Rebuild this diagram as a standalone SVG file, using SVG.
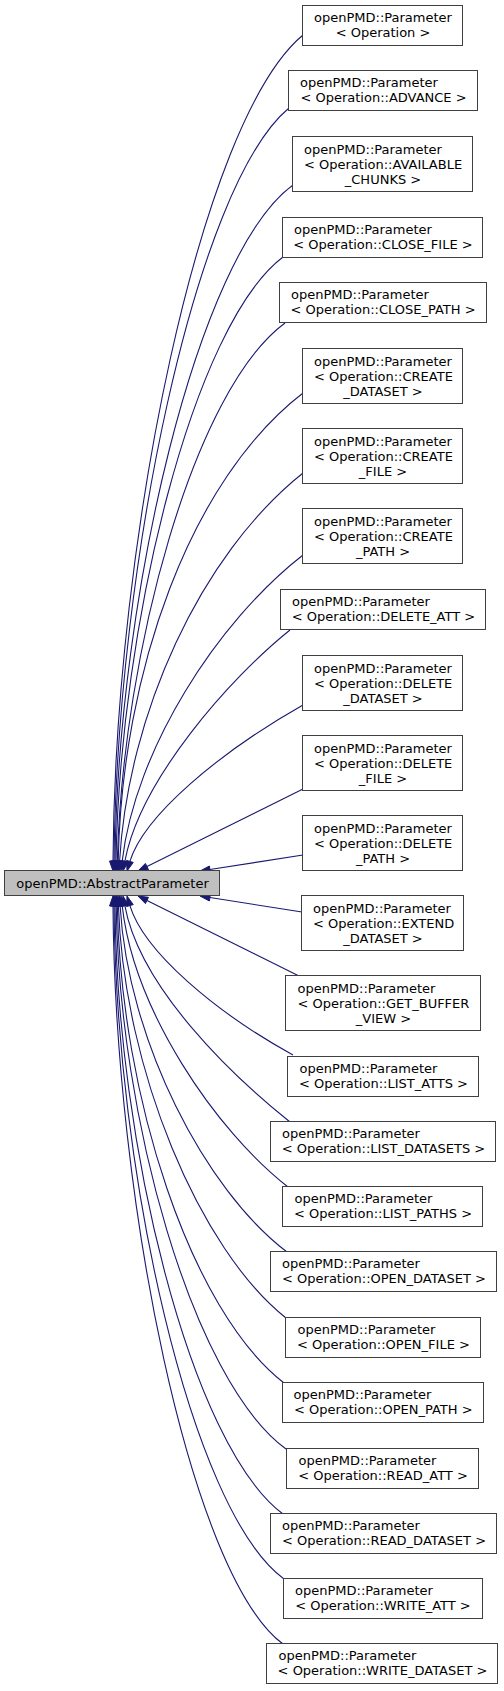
<svg xmlns="http://www.w3.org/2000/svg" width="504" height="1691" viewBox="0 0 504 1691">
<style>
.n rect{fill:#ffffff;stroke:#404040;stroke-width:1}
.m rect{fill:#bfbfbf;stroke:#404040;stroke-width:1}
text{font-family:"DejaVu Sans","Liberation Sans",sans-serif;font-size:13px;fill:#000000}
.c{text-anchor:middle}
#edges path{fill:none;stroke:#191970;stroke-width:1.1}
#edges polygon{fill:#191970;stroke:#191970;stroke-width:1}
</style>
<rect x="0" y="0" width="504" height="1691" fill="#ffffff"/>
<g id="edges">
<path d="M113,861 C115,540 200,120 303,35"/><polygon points="109.5,861 113,871 116.5,861"/>
<path d="M114,861 C117,567 195,186 289,108"/><polygon points="110.5,861 114,871 117.5,861"/>
<path d="M115,861 C118,597 197,255 293,185"/><polygon points="111.5,861 115,871 118.5,861"/>
<path d="M116,861 C120,625 193,325 283,257"/><polygon points="112.5,861 116,871 119.5,861"/>
<path d="M117.3,861 C123,651 194,390 285,323"/><polygon points="113.8,860.9 117,871 120.8,861.1"/>
<path d="M118.2,861 C122,672 190,480 303,393"/><polygon points="114.7,861 118,871 121.7,861"/>
<path d="M119.6,861 C128,715 200,555 303,473"/><polygon points="116.1,860.8 119,871 123.1,861.2"/>
<path d="M122.2,861.1 C135,750 217,622 303,555"/><polygon points="118.7,860.7 121,871 125.7,861.5"/>
<path d="M124.9,861.2 C140,780 230,678 290,630"/><polygon points="121.5,860.5 123,871 128.3,861.9"/>
<path d="M129.9,861.4 C143.9,815.5 220,752 303,705"/><polygon points="126.55,860.4 127,871 133.25,862.4"/>
<path d="M147,866.5 L303,789"/><polygon points="145.4,863.4 138,871 148.5,869.7"/>
<path d="M209.9,869.5 L303,855"/><polygon points="209.4,866 200,871 210.4,873"/>
<path d="M209.9,897.5 L302,912"/><polygon points="210.4,894.1 200,896 209.4,901"/>
<path d="M147,900.5 L299,976"/><polygon points="148.5,897.3 138,896 145.4,903.6"/>
<path d="M129.9,905.6 C143.9,951.5 215,1012 293,1055"/><polygon points="126.55,906.6 127,896 133.25,904.6"/>
<path d="M124.9,905.8 C140,987 230,1074 290,1122"/><polygon points="121.5,906.5 123,896 128.3,905.1"/>
<path d="M122.2,905.9 C134,1010 215,1130 288,1187"/><polygon points="118.7,906.3 121,896 125.7,905.5"/>
<path d="M120.1,906 C128,1040 205,1190 287,1252"/><polygon points="116.6,906.2 119.5,896 123.6,905.8"/>
<path d="M118.4,906 C124,1070 200,1250 286,1318"/><polygon points="114.9,906 118,896 121.9,906"/>
<path d="M117.3,906 C121,1095 190,1310 284,1383"/><polygon points="113.8,906 117,896 120.8,906"/>
<path d="M116.2,906 C119,1116 192,1380 286,1449"/><polygon points="112.7,906 116,896 119.7,906"/>
<path d="M115,906 C117,1142 190,1445 283,1514"/><polygon points="111.5,906 115,896 118.5,906"/>
<path d="M114,906 C116,1170 190,1510 284,1579"/><polygon points="110.5,906 114,896 117.5,906"/>
<path d="M113,906 C115,1200 190,1575 283,1644"/><polygon points="109.5,906 113,896 116.5,906"/>
</g>
<g id="main" class="m"><rect x="4.5" y="870.5" width="215" height="25"/><text class="c" x="112.5" y="887.8">openPMD::AbstractParameter</text></g>
<g id="n1" class="n"><rect x="302.5" y="5.5" width="160" height="40"/><text x="314" y="22.3">openPMD::Parameter</text><text class="c" x="383" y="37.3">&lt; Operation &gt;</text></g>
<g id="n2" class="n"><rect x="288.5" y="70.5" width="189" height="40"/><text x="300" y="87.3">openPMD::Parameter</text><text class="c" x="383.5" y="102.3">&lt; Operation::ADVANCE &gt;</text></g>
<g id="n3" class="n"><rect x="292.5" y="136.5" width="180" height="55"/><text x="304" y="153.8">openPMD::Parameter</text><text x="304" y="168.8">&lt; Operation::AVAILABLE</text><text class="c" x="383" y="183.8">_CHUNKS &gt;</text></g>
<g id="n4" class="n"><rect x="282.5" y="217.5" width="200" height="40"/><text x="294" y="234.3">openPMD::Parameter</text><text class="c" x="383" y="249.3">&lt; Operation::CLOSE_FILE &gt;</text></g>
<g id="n5" class="n"><rect x="279.5" y="282.5" width="207" height="40"/><text x="291" y="299.3">openPMD::Parameter</text><text class="c" x="383" y="314.3">&lt; Operation::CLOSE_PATH &gt;</text></g>
<g id="n6" class="n"><rect x="302.5" y="348.5" width="160" height="55"/><text x="314" y="365.8">openPMD::Parameter</text><text x="314" y="380.8">&lt; Operation::CREATE</text><text class="c" x="383" y="395.8">_DATASET &gt;</text></g>
<g id="n7" class="n"><rect x="302.5" y="428.5" width="160" height="55"/><text x="314" y="445.8">openPMD::Parameter</text><text x="314" y="460.8">&lt; Operation::CREATE</text><text class="c" x="383" y="475.8">_FILE &gt;</text></g>
<g id="n8" class="n"><rect x="302.5" y="508.5" width="160" height="55"/><text x="314" y="525.8">openPMD::Parameter</text><text x="314" y="540.8">&lt; Operation::CREATE</text><text class="c" x="383" y="555.8">_PATH &gt;</text></g>
<g id="n9" class="n"><rect x="280.5" y="589.5" width="205" height="40"/><text x="292" y="606.3">openPMD::Parameter</text><text class="c" x="383.5" y="621.3">&lt; Operation::DELETE_ATT &gt;</text></g>
<g id="n10" class="n"><rect x="302.5" y="655.5" width="160" height="55"/><text x="314" y="672.8">openPMD::Parameter</text><text x="314" y="687.8">&lt; Operation::DELETE</text><text class="c" x="383" y="702.8">_DATASET &gt;</text></g>
<g id="n11" class="n"><rect x="302.5" y="735.5" width="160" height="55"/><text x="314" y="752.8">openPMD::Parameter</text><text x="314" y="767.8">&lt; Operation::DELETE</text><text class="c" x="383" y="782.8">_FILE &gt;</text></g>
<g id="n12" class="n"><rect x="302.5" y="815.5" width="160" height="55"/><text x="314" y="832.8">openPMD::Parameter</text><text x="314" y="847.8">&lt; Operation::DELETE</text><text class="c" x="383" y="862.8">_PATH &gt;</text></g>
<g id="n13" class="n"><rect x="301.5" y="895.5" width="162" height="55"/><text x="313" y="912.8">openPMD::Parameter</text><text x="313" y="927.8">&lt; Operation::EXTEND</text><text class="c" x="383" y="942.8">_DATASET &gt;</text></g>
<g id="n14" class="n"><rect x="285.5" y="975.5" width="195" height="55"/><text x="297.5" y="992.8">openPMD::Parameter</text><text x="297.5" y="1007.8">&lt; Operation::GET_BUFFER</text><text class="c" x="383.5" y="1022.8">_VIEW &gt;</text></g>
<g id="n15" class="n"><rect x="287.5" y="1056.5" width="191" height="40"/><text x="299.5" y="1073.3">openPMD::Parameter</text><text class="c" x="383.5" y="1088.3">&lt; Operation::LIST_ATTS &gt;</text></g>
<g id="n16" class="n"><rect x="270.5" y="1121.5" width="225" height="40"/><text x="282" y="1138.3">openPMD::Parameter</text><text class="c" x="383.5" y="1153.3">&lt; Operation::LIST_DATASETS &gt;</text></g>
<g id="n17" class="n"><rect x="282.5" y="1186.5" width="200" height="40"/><text x="294.5" y="1203.3">openPMD::Parameter</text><text class="c" x="383" y="1218.3">&lt; Operation::LIST_PATHS &gt;</text></g>
<g id="n18" class="n"><rect x="270.5" y="1251.5" width="226" height="40"/><text x="282" y="1268.3">openPMD::Parameter</text><text class="c" x="384" y="1283.3">&lt; Operation::OPEN_DATASET &gt;</text></g>
<g id="n19" class="n"><rect x="285.5" y="1317.5" width="195" height="40"/><text x="297.5" y="1334.3">openPMD::Parameter</text><text class="c" x="383.5" y="1349.3">&lt; Operation::OPEN_FILE &gt;</text></g>
<g id="n20" class="n"><rect x="282.5" y="1382.5" width="201" height="40"/><text x="293.5" y="1399.3">openPMD::Parameter</text><text class="c" x="383.25" y="1414.3">&lt; Operation::OPEN_PATH &gt;</text></g>
<g id="n21" class="n"><rect x="286.5" y="1448.5" width="192" height="40"/><text x="298.5" y="1465.3">openPMD::Parameter</text><text class="c" x="383" y="1480.3">&lt; Operation::READ_ATT &gt;</text></g>
<g id="n22" class="n"><rect x="270.5" y="1513.5" width="226" height="40"/><text x="282" y="1530.3">openPMD::Parameter</text><text class="c" x="384" y="1545.3">&lt; Operation::READ_DATASET &gt;</text></g>
<g id="n23" class="n"><rect x="283.5" y="1578.5" width="199" height="40"/><text x="295" y="1595.3">openPMD::Parameter</text><text class="c" x="383" y="1610.3">&lt; Operation::WRITE_ATT &gt;</text></g>
<g id="n24" class="n"><rect x="266.5" y="1643.5" width="231" height="40"/><text x="278.5" y="1660.3">openPMD::Parameter</text><text class="c" x="382.5" y="1675.3">&lt; Operation::WRITE_DATASET &gt;</text></g>
</svg>
